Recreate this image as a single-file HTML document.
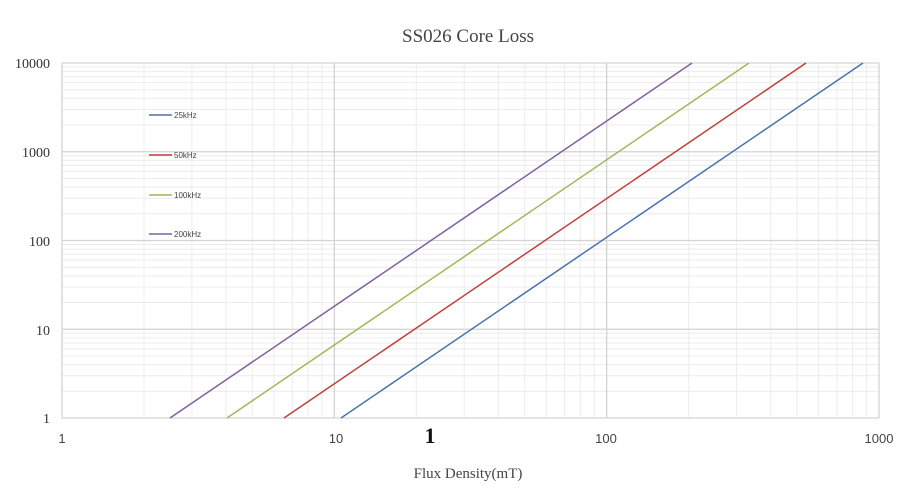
<!DOCTYPE html>
<html><head><meta charset="utf-8"><style>body{margin:0;background:#fff}svg{display:block}</style></head><body>
<svg width="900" height="500" xmlns="http://www.w3.org/2000/svg" font-family="Liberation Serif, serif">
<rect width="900" height="500" fill="#fff"/>
<path stroke="#ececec" stroke-width="1" fill="none" d="
M144 63V418M191.9 63V418M226 63V418M252.4 63V418M273.9 63V418M292.2 63V418M307.9 63V418M321.9 63V418
M416.3 63V418M464.2 63V418M498.3 63V418M524.7 63V418M546.2 63V418M564.5 63V418M580.2 63V418M594.2 63V418
M688.7 63V418M736.6 63V418M770.7 63V418M797.1 63V418M818.6 63V418M836.9 63V418M852.6 63V418M866.6 63V418
M62 391.3H879M62 375.7H879M62 364.6H879M62 356H879M62 348.9H879M62 343H879M62 337.9H879M62 333.3H879
M62 302.55H879M62 286.95H879M62 275.85H879M62 267.25H879M62 260.15H879M62 254.25H879M62 249.15H879M62 244.55H879
M62 213.8H879M62 198.2H879M62 187.1H879M62 178.5H879M62 171.4H879M62 165.5H879M62 160.4H879M62 155.8H879
M62 125.05H879M62 109.45H879M62 98.35H879M62 89.75H879M62 82.65H879M62 76.75H879M62 71.65H879M62 67.05H879"/>
<path stroke="#d4d4d4" stroke-width="1.3" fill="none" d="
M62 63V418M334.33 63V418M606.67 63V418M879 63V418
M62 63H879M62 151.75H879M62 240.5H879M62 329.25H879M62 418H879"/>
<g stroke-width="1.5">
<line x1="341" y1="418" x2="863" y2="63" stroke="#4a72b0"/>
<line x1="284" y1="418" x2="806" y2="63" stroke="#c0403c"/>
<line x1="227" y1="418" x2="749" y2="63" stroke="#9bbb59"/>
<line x1="170" y1="418" x2="692" y2="63" stroke="#7f60a0"/>
<line x1="149" y1="115" x2="172" y2="115" stroke="#4a72b0"/>
<line x1="149" y1="155" x2="172" y2="155" stroke="#c0403c"/>
<line x1="149" y1="195" x2="172" y2="195" stroke="#9bbb59"/>
<line x1="149" y1="234" x2="172" y2="234" stroke="#7f60a0"/>
</g>
<g font-family="Liberation Sans, sans-serif" font-size="8" fill="#444">
<text x="174" y="118">25kHz</text><text x="174" y="158">50kHz</text><text x="174" y="198">100kHz</text><text x="174" y="237">200kHz</text>
</g>
<text x="468" y="42" font-size="19" fill="#444" text-anchor="middle">SS026 Core Loss</text>
<g font-size="14" fill="#333" text-anchor="end">
<text x="50" y="68">10000</text><text x="50" y="157">1000</text><text x="50" y="246">100</text><text x="50" y="335">10</text><text x="50" y="423">1</text>
</g>
<g font-family="Liberation Sans, sans-serif" font-size="13" fill="#444" text-anchor="middle">
<text x="62" y="443">1</text><text x="336" y="443">10</text><text x="606" y="443">100</text><text x="879" y="443">1000</text>
</g>
<text x="430" y="443" font-size="22" font-weight="bold" fill="#111" text-anchor="middle">1</text>
<text x="468" y="478" font-size="15" fill="#444" text-anchor="middle">Flux Density(mT)</text>
</svg>
</body></html>
